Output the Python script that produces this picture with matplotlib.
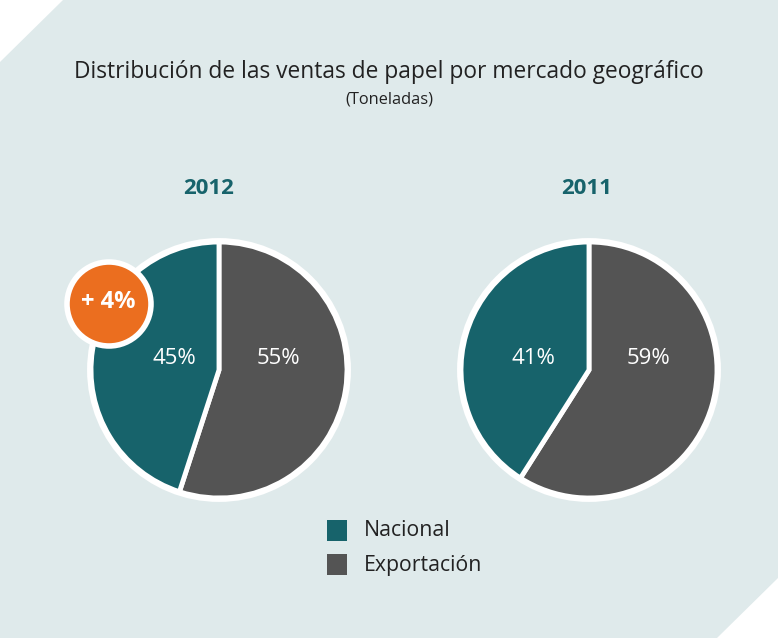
import matplotlib.pyplot as plt
from matplotlib.patches import Polygon, Circle, Rectangle

plt.rcParams["font.family"] = ["Open Sans", "DejaVu Sans"]

W, H = 778, 638

years = ["2012", "2011"]
categories = ["Nacional", "Exportación"]
nacional = [45, 41]
exportacion = [55, 59]
badge_text = "+ 4%"

title = "Distribución de las ventas de papel por mercado geográfico"
subtitle = "(Toneladas)"

teal = "#17636b"
grey = "#545454"
bg = "#dfeaeb"
orange = "#eb6e1f"

fig = plt.figure(figsize=(W / 100, H / 100), dpi=100, facecolor="white")
ax = fig.add_axes([0, 0, 1, 1])


def py(y):
    # pixel row (from top) -> data y
    return H - y


ax.add_patch(Polygon([(63, py(0)), (W, py(0)), (W, py(578)), (717, py(H)),
                      (0, py(H)), (0, py(62))], closed=True,
                     facecolor=bg, edgecolor="none", zorder=0))

ax.text(389, py(72), title, ha="center", va="center", fontsize=16.4,
        color="#222222")
ax.text(389, py(100), subtitle, ha="center", va="center", fontsize=11.8,
        color="#222222")

centers = [(219, py(370)), (589, py(370))]
radius = 128
label_dx = [(-45, 59), (-56, 60)]

for i, (cx, cy) in enumerate(centers):
    ax.pie([exportacion[i], nacional[i]], colors=[grey, teal], startangle=90,
           counterclock=False, center=(cx, cy), radius=radius,
           wedgeprops={"edgecolor": "white", "linewidth": 3.5},
           frame=True)
    ax.add_patch(Circle((cx, cy), radius + 1.5, facecolor="none",
                        edgecolor="white", linewidth=3.5, zorder=3))
    ax.text(cx + label_dx[i][0], py(358), f"{nacional[i]}%", ha="center",
            va="center", fontsize=16, color="white", zorder=4)
    ax.text(cx + label_dx[i][1], py(358), f"{exportacion[i]}%", ha="center",
            va="center", fontsize=16, color="white", zorder=4)
    ax.text(cx - 10 if i == 0 else cx - 2, py(188), years[i], ha="center",
            va="center", fontsize=16, fontweight="bold", color=teal)

ax.add_patch(Circle((109, py(304)), 42, facecolor=orange, edgecolor="white",
                    linewidth=4, zorder=5))
ax.text(108, py(302), badge_text, ha="center", va="center", fontsize=17,
        fontweight="bold", color="white", zorder=6)

for j, (name, col) in enumerate(zip(categories, [teal, grey])):
    yc = 531 + 34 * j
    ax.add_patch(Rectangle((327, py(yc + 10)), 20, 21, facecolor=col,
                           edgecolor="none", zorder=2))
    ax.text(364, py(yc), name, ha="left", va="center", fontsize=15.3,
            color="#222222")

ax.set_xlim(0, W)
ax.set_ylim(0, H)
ax.set_aspect("equal")
ax.axis("off")

fig.savefig("out.png", dpi=100, facecolor="white")
